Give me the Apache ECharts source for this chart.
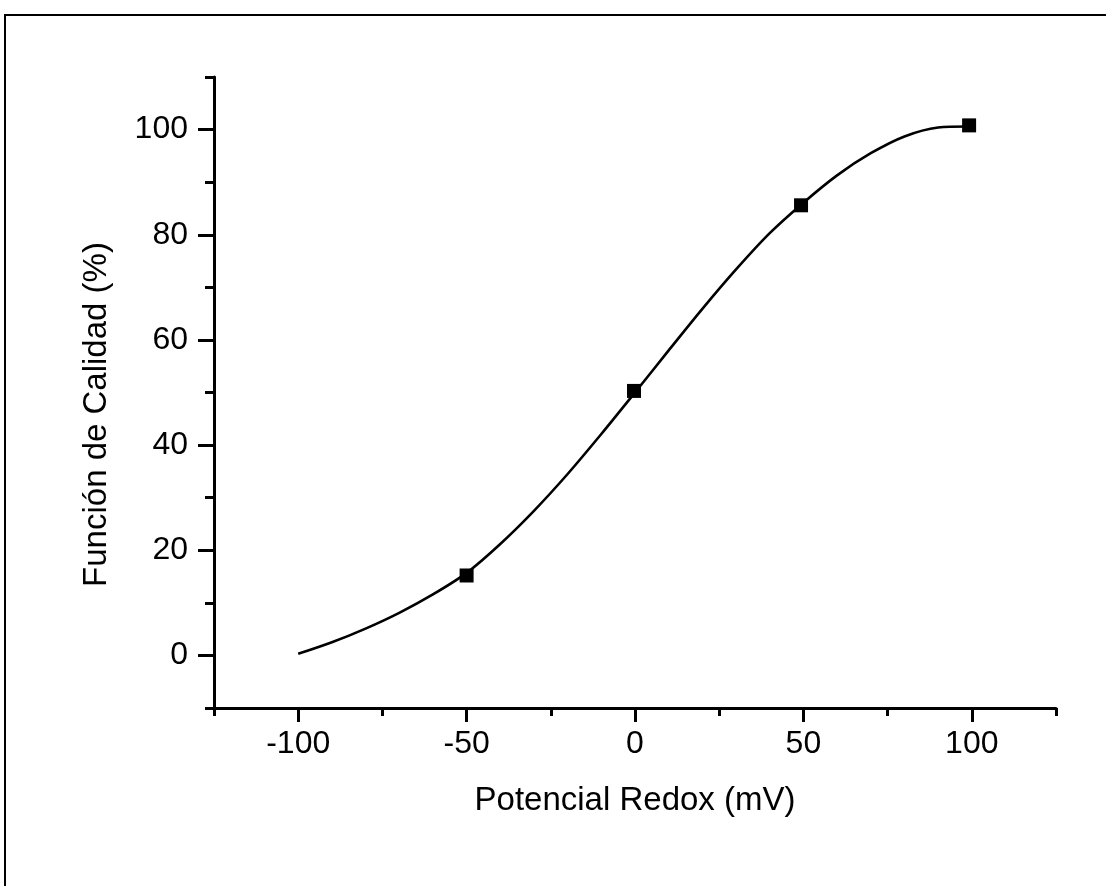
<!DOCTYPE html>
<html>
<head>
<meta charset="utf-8">
<script src="https://cdn.jsdelivr.net/npm/echarts@6/dist/echarts.min.js"></script>
<style>
  html, body { margin: 0; padding: 0; background: #fff; }
  #chart { position: absolute; left: 0; top: 0; width: 1106px; height: 886px; }
  #frame { position: absolute; left: 4px; top: 14px; width: 1110px; height: 880px;
           border-top: 2px solid #000; border-left: 2px solid #000; pointer-events: none; }
</style>
</head>
<body>
<div id="chart"></div>
<div id="frame"></div>
<script>
// Measured points (Potencial Redox mV, Función de Calidad %)
const pointX = [-50, -0.3, 49.3, 99.2];
const pointY = [15.2, 50.3, 85.6, 100.8];

// Fitted curve
const curveX = [-100, -90, -80, -70, -60, -50, -40, -30, -20, -10, 0, 10, 20, 30, 40, 50, 60, 70, 80, 90, 99];
const curveY = [0.3, 2.5, 5.1, 8.1, 11.6, 15.7, 21.2, 27.5, 34.5, 42.1, 50.0, 58.0, 65.9, 73.4, 80.3, 86.1, 91.3, 95.5, 98.7, 100.4, 100.6];

// Axis ticks
const xMajorTicks = [-100, -50, 0, 50, 100];
const xMinorTicks = [-125, -75, -25, 25, 75, 125];
const yMajorTicks = [0, 20, 40, 60, 80, 100];
const yMinorTicks = [-10, 10, 30, 50, 70, 90, 110];

const xTitle = 'Potencial Redox (mV)';
const yTitle = 'Función de Calidad (%)';

const FONT = '"Liberation Sans", Arial, sans-serif';
const INK = '#000';

const chart = echarts.init(document.getElementById('chart'), null, { renderer: 'canvas' });

const baseX = {
  type: 'value', min: -125, max: 125, position: 'bottom',
  splitLine: { show: false },
};
const baseY = {
  type: 'value', min: -10, max: 110, position: 'left',
  splitLine: { show: false },
};

chart.setOption({
  animation: false,
  backgroundColor: '#fff',
  grid: { left: 214, right: 50, top: 77, bottom: 178, containLabel: false },
  xAxis: [
    Object.assign({}, baseX, {
      name: xTitle, nameLocation: 'middle', nameGap: 76,
      nameTextStyle: { fontFamily: FONT, fontSize: 33, color: INK },
      axisLine: { show: true, onZero: false, lineStyle: { color: INK, width: 3 } },
      axisTick: { show: true, inside: false, length: 14, customValues: xMajorTicks, lineStyle: { color: INK, width: 3 } },
      axisLabel: { show: true, margin: 20, customValues: xMajorTicks, fontFamily: FONT, fontSize: 32, color: INK },
    }),
    Object.assign({}, baseX, {
      axisLine: { show: false, onZero: false },
      axisTick: { show: true, inside: false, length: 8, customValues: xMinorTicks, lineStyle: { color: INK, width: 3 } },
      axisLabel: { show: false },
    }),
  ],
  yAxis: [
    Object.assign({}, baseY, {
      name: yTitle, nameLocation: 'middle', nameGap: 101,
      nameTextStyle: { fontFamily: FONT, fontSize: 33, color: INK, padding: [0, 44, 0, 0] },
      axisLine: { show: true, onZero: false, lineStyle: { color: INK, width: 3 } },
      axisTick: { show: true, inside: false, length: 16, customValues: yMajorTicks, lineStyle: { color: INK, width: 3 } },
      axisLabel: { show: true, margin: 26, customValues: yMajorTicks, fontFamily: FONT, fontSize: 32, color: INK },
    }),
    Object.assign({}, baseY, {
      axisLine: { show: false, onZero: false },
      axisTick: { show: true, inside: false, length: 9, customValues: yMinorTicks, lineStyle: { color: INK, width: 3 } },
      axisLabel: { show: false },
    }),
  ],
  series: [
    {
      type: 'line', name: 'ajuste',
      xAxisIndex: 0, yAxisIndex: 0,
      data: curveX.map((x, i) => [x, curveY[i]]),
      smooth: 0.3, showSymbol: false, symbol: 'none',
      lineStyle: { color: INK, width: 2.6 },
      z: 2,
    },
    {
      type: 'scatter', name: 'datos',
      xAxisIndex: 0, yAxisIndex: 0,
      data: pointX.map((x, i) => [x, pointY[i]]),
      symbol: 'rect', symbolSize: 14,
      itemStyle: { color: INK, opacity: 1 },
      z: 3,
    },
  ],
});
</script>
</body>
</html>
